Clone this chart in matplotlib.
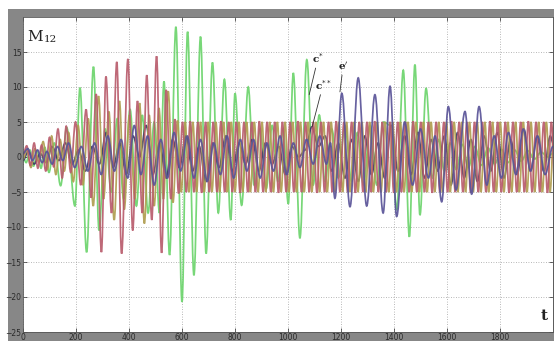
import numpy as np
import matplotlib
matplotlib.use("Agg")
import matplotlib.pyplot as plt
from matplotlib.patches import Rectangle, PathPatch
from matplotlib.path import Path

# extrema, as (t, value) pairs
green_pts = [
    (0, 0.0), (12, -0.8), (26, 1.0), (40, -1.3), (54, 0.9), (68, -1.6), (82, 1.4),
    (98, -2.2), (118, 2.0), (142, -4.1), (165, 4.2), (196, -7.0), (215, 9.9),
    (240, -13.6), (266, 12.9), (287, -10.5), (310, 4.0), (333, -5.0), (356, 5.5),
    (380, -6.0), (404, 6.8), (428, -7.0), (450, 6.0), (472, -8.0), (495, 5.0),
    (515, -8.0), (532, 10.8), (553, -14.0), (577, 18.6), (600, -20.7), (621, 17.9),
    (645, -16.9), (670, 17.2), (691, -13.8), (715, 13.5), (737, -8.0), (760, 11.1),
    (784, -9.0), (800, 9.1), (825, -6.9), (850, 10.0), (872, -4.0), (895, 4.0),
    (918, -4.5), (940, 4.5), (962, -3.5), (982, 4.0), (1001, -6.7), (1020, 12.0),
    (1045, -11.6), (1071, 13.9), (1095, -4.0), (1118, 6.0), (1140, -3.5), (1165, 4.0),
    (1190, -3.0), (1215, 4.5), (1240, -3.5), (1262, 3.5), (1285, -4.0), (1310, 4.5),
    (1335, -4.0), (1360, 5.0), (1388, 4.5), (1410, -7.5), (1435, 12.4), (1458, -11.4),
    (1479, 13.2), (1498, -8.3), (1521, 9.8), (1545, -3.0), (1568, 2.5), (1590, -2.0),
    (1612, 2.0), (1635, -1.8), (1658, 1.8), (1680, -1.5), (1705, 1.5), (1730, -1.2),
    (1755, 1.3), (1780, -1.0), (1805, 1.1), (1830, -0.8), (1855, 1.0), (1880, -0.6),
    (1905, 0.9), (1930, -0.3), (1955, 0.7), (1980, 0.0), (2000, 0.5),
]

red_pts = [
    (0, 0.3), (14, 1.6), (28, -1.2), (42, 2.0), (56, -1.6), (70, 1.7), (86, -2.0),
    (100, 2.8), (116, -1.4), (132, 4.0), (148, -3.0), (163, 4.4), (180, -2.2),
    (198, 5.0), (218, -4.0), (238, 6.8), (257, -5.8), (276, 9.0), (296, -13.6),
    (313, 11.5), (334, -8.0), (354, 13.6), (372, -13.8), (396, 14.0), (414, -10.5),
    (432, 8.0), (450, -8.0), (467, 11.7), (486, -9.0), (504, 14.4), (523, -13.7),
    (540, 9.6), (558, -6.0), (573, 5.4), (587, -5.2), (602, 5.0), (616, -5.0),
    (631, 5.1), (645, -5.0), (660, 5.0), (674, -5.1), (689, 5.0), (703, -5.0),
    (718, 5.0), (732, -5.0), (747, 5.1), (761, -5.0), (776, 5.0), (790, -5.0),
    (805, 5.0), (819, -5.1), (834, 5.0), (848, -5.0), (863, 5.0), (877, -5.0),
    (892, 5.1), (906, -5.0), (921, 5.0), (935, -5.0), (950, 5.0), (964, -5.1),
    (979, 5.0), (993, -5.0), (1008, 5.0), (1022, -5.0), (1037, 5.1), (1051, -5.0),
    (1066, 5.0), (1080, -5.0), (1095, 5.0), (1109, -5.1), (1124, 5.0), (1138, -5.0),
    (1153, 5.0), (1167, -5.0), (1182, 5.1), (1196, -5.0), (1211, 5.0), (1225, -5.0),
    (1240, 5.0), (1254, -5.1), (1269, 5.0), (1283, -5.0), (1298, 5.0), (1312, -5.0),
    (1327, 5.1), (1341, -5.0), (1356, 5.0), (1370, -5.0), (1385, 5.0), (1399, -5.1),
    (1414, 5.0), (1428, -5.0), (1443, 5.0), (1457, -5.0), (1472, 5.1), (1486, -5.0),
    (1501, 5.0), (1515, -5.0), (1530, 5.0), (1544, -5.1), (1559, 5.0), (1573, -5.0),
    (1588, 5.0), (1602, -5.0), (1617, 5.1), (1631, -5.0), (1646, 5.0), (1660, -5.0),
    (1675, 5.0), (1689, -5.1), (1704, 5.0), (1718, -5.0), (1733, 5.0), (1747, -5.0),
    (1762, 5.1), (1776, -5.0), (1791, 5.0), (1805, -5.0), (1820, 5.0), (1834, -5.1),
    (1849, 5.0), (1863, -5.0), (1878, 5.0), (1892, -5.0), (1907, 5.1), (1921, -5.0),
    (1936, 5.0), (1950, -5.0), (1965, 5.0), (1979, -5.1), (1994, 5.0), (2008, -5.0),
]

olive_pts = [
    (0, -0.3), (15, 1.0), (30, -1.5), (45, 1.2), (60, -0.8), (76, 2.2), (92, -1.8),
    (108, 3.0), (124, -2.5), (140, 2.5), (156, -2.0), (172, 3.5), (190, -3.5),
    (208, 4.5), (226, -4.0), (246, 5.5), (265, -7.0), (285, 8.7), (304, -6.0),
    (324, 6.5), (344, -9.0), (364, 8.0), (382, -7.5), (402, 6.0), (422, -6.0),
    (440, 7.7), (458, -9.5), (476, 6.0), (495, -7.0), (513, 7.0), (530, -6.0),
    (548, 9.4), (566, -6.5), (583, 5.2), (597, -5.0), (612, 5.0), (626, -5.0),
    (641, 5.0), (655, -5.0), (670, 5.0), (684, -5.0), (699, 5.0), (713, -5.0),
    (728, 5.0), (742, -5.0), (757, 5.0), (771, -5.0), (786, 5.0), (800, -5.0),
    (815, 5.0), (829, -5.0), (844, 5.0), (858, -5.0), (873, 5.0), (887, -5.0),
    (902, 5.0), (916, -5.0), (931, 5.0), (945, -5.0), (960, 5.0), (974, -5.0),
    (989, 5.0), (1003, -5.0), (1018, 5.0), (1032, -5.0), (1047, 5.0), (1061, -5.0),
    (1076, 5.0), (1090, -5.0), (1105, 5.0), (1119, -5.0), (1134, 5.0), (1148, -5.0),
    (1163, 5.0), (1177, -5.0), (1192, 5.0), (1206, -5.0), (1221, 5.0), (1235, -5.0),
    (1250, 5.0), (1264, -5.0), (1279, 5.0), (1293, -5.0), (1308, 5.0), (1322, -5.0),
    (1337, 5.0), (1351, -5.0), (1366, 5.0), (1380, -5.0), (1395, 5.0), (1409, -5.0),
    (1424, 5.0), (1438, -5.0), (1453, 5.0), (1467, -5.0), (1482, 5.0), (1496, -5.0),
    (1511, 5.0), (1525, -5.0), (1540, 5.0), (1554, -5.0), (1569, 5.0), (1583, -5.0),
    (1598, 5.0), (1612, -5.0), (1627, 5.0), (1641, -5.0), (1656, 5.0), (1670, -5.0),
    (1685, 5.0), (1699, -5.0), (1714, 5.0), (1728, -5.0), (1743, 5.0), (1757, -5.0),
    (1772, 5.0), (1786, -5.0), (1801, 5.0), (1815, -5.0), (1830, 5.0), (1844, -5.0),
    (1859, 5.0), (1873, -5.0), (1888, 5.0), (1902, -5.0), (1917, 5.0), (1931, -5.0),
    (1946, 5.0), (1960, -5.0), (1975, 5.0), (1989, -5.0), (2004, 5.0),
]

e1_pts = [
    (0, 0.5), (18, 1.2), (36, -0.5), (55, 1.0), (72, -0.8), (90, 0.8), (110, -1.0),
    (130, 1.5), (150, -0.5), (172, 2.0), (195, -1.5), (220, 1.5), (245, -2.0),
    (270, 2.0), (295, -2.5), (320, 3.0), (345, -2.0), (370, 2.5), (395, -3.0),
    (420, 4.5), (445, -2.5), (470, 3.0), (495, -4.0), (520, 2.5), (545, -3.0),
    (570, 3.5), (595, -2.0), (620, 3.0), (645, -3.0), (670, 2.5), (695, -3.5),
    (720, 2.0), (745, -2.5), (770, 3.0), (795, -3.0), (820, 2.5), (845, -2.0),
    (870, 2.5), (895, -3.0), (920, 2.0), (945, -2.0), (970, 3.0), (995, -2.5),
    (1020, 2.0), (1045, -1.5), (1070, 2.5), (1095, -1.0), (1120, 3.0), (1145, -1.0),
    (1160, 2.0), (1177, -5.9), (1203, 9.1), (1234, -7.1), (1265, 11.3), (1297, -7.0),
    (1328, 8.9), (1359, -8.0), (1385, 10.1), (1410, -8.5), (1440, 5.0), (1470, -4.0),
    (1500, 4.0), (1530, -3.0), (1555, 3.0), (1580, -6.4), (1605, 7.2), (1634, -4.7),
    (1668, 6.5), (1693, -5.3), (1721, 7.2), (1750, -4.0), (1778, 3.0), (1805, -3.0),
    (1832, 3.5), (1860, -2.5), (1888, 4.0), (1915, -2.0), (1942, 3.0), (1970, -2.5),
    (2000, 1.5),
]

c2_pts = [
    (0, -0.5), (20, 0.8), (42, -1.0), (65, 0.5), (88, -0.8), (110, 1.5), (135, -0.5),
    (160, 2.0), (185, -1.0), (210, 1.0), (235, -2.0), (262, 1.5), (288, -1.0),
    (315, 3.5), (340, -1.5), (365, 2.0), (390, -2.5), (415, 3.0), (440, 0.0),
    (465, 4.5), (490, -2.5), (515, 2.0), (540, -3.0), (565, 2.5), (590, -1.5),
    (615, 3.0), (640, -2.0), (665, 1.5), (690, -3.5), (715, 2.0), (740, -1.5),
    (765, 3.0), (790, -2.0), (815, 2.0), (840, -1.0), (865, 2.5), (890, -2.0),
    (915, 2.0), (940, -1.0), (965, 1.5), (990, -2.5), (1015, 1.5), (1040, 0.0),
    (1065, 1.0), (1090, 4.3), (1115, 1.5), (1140, 3.0), (1165, -2.0), (1190, 2.0),
    (1215, -3.0), (1240, 2.5), (1265, -3.5), (1290, 3.0), (1315, -2.5), (1340, 2.0),
    (1365, -3.0), (1390, 4.5), (1415, -2.0), (1440, 3.0), (1465, -2.5), (1490, 3.5),
    (1515, -3.0), (1540, 2.5), (1565, -2.0), (1590, 3.0), (1615, -4.0), (1640, 3.5),
    (1665, -3.0), (1690, 2.5), (1715, -3.5), (1740, 3.0), (1765, -2.0), (1790, 3.5),
    (1815, -3.0), (1840, 2.5), (1865, -2.5), (1890, 4.0), (1915, -2.0), (1940, 3.0),
    (1965, -2.0), (1990, 3.0), (2000, 2.0),
]

x_ticks = [0, 200, 400, 600, 800, 1000, 1200, 1400, 1600, 1800]
y_ticks = [-25, -20, -15, -10, -5, 0, 5, 10, 15]

# label text, text position, point on curve
notes = [
    (r"c$^{*}$", (1113, 13.1), (1080, 8.9)),
    (r"c$^{**}$", (1132, 9.3), (1091, 4.3)),
    (r"e$^{\prime}$", (1208, 12.1), (1196, 9.3)),
]


def wave_path(pts, k=0.3642):
    # smooth curve through the extrema: flat tangent at each peak/trough
    t, v = np.array(pts, dtype=float).T
    verts = [(t[0], v[0])]
    codes = [Path.MOVETO]
    for i in range(len(t) - 1):
        dt = t[i + 1] - t[i]
        verts += [(t[i] + k * dt, v[i]), (t[i + 1] - k * dt, v[i + 1]), (t[i + 1], v[i + 1])]
        codes += [Path.CURVE4] * 3
    return Path(verts, codes)


W, H = 554, 341
fig = plt.figure(figsize=(W / 100, H / 100), dpi=100, facecolor="white")
fig.patches.append(Rectangle((8 / W, 0), 1, (H - 9) / H, transform=fig.transFigure,
                             facecolor="#878787", edgecolor="none", zorder=-10))
ax = fig.add_axes([23 / W, 9 / H, 530 / W, 315 / H])
ax.set_zorder(5)
ax.set_facecolor("white")

series = [
    (green_pts, "#6cd46c"),
    (c2_pts, "#3a3a66"),
    (olive_pts, "#b09e50"),
    (red_pts, "#b95c6c"),
    (e1_pts, "#5a5498"),
]
for pts, col in series:
    ax.add_patch(PathPatch(wave_path(pts), facecolor="none", edgecolor=col,
                           lw=1.25, alpha=0.92))

ax.set_xlim(0, 2000)
ax.set_ylim(-25, 20)
ax.set_xticks(x_ticks)
ax.set_yticks(y_ticks)
ax.set_axisbelow(True)
ax.grid(True, linestyle=(0, (1, 2)), color="#a0a0a0", lw=0.6)
ax.tick_params(direction="in", top=True, right=True, length=3, width=0.5,
               labelsize=5.5, colors="#2a2a2a", pad=1.2)
ax.tick_params(axis="x", pad=0.5)
for s in ax.spines.values():
    s.set_color("#555555")
    s.set_linewidth(0.6)

m = ax.text(0.008, 0.925, "M", transform=ax.transAxes, fontsize=11,
            family="DejaVu Serif", color="#222222", va="baseline")
ax.annotate("12", xy=(1.0, 0.0), xycoords=m, xytext=(0.5, 1.3),
            textcoords="offset points", fontsize=7.5, family="DejaVu Serif",
            color="#222222", va="baseline")
ax.text(0.984, 0.03, "t", transform=ax.transAxes, fontsize=11,
        family="DejaVu Serif", fontweight="bold", color="#222222",
        ha="center", va="bottom")

for label, txt, pt in notes:
    ax.annotate(label, xy=pt, xytext=txt, fontsize=7.5, family="DejaVu Serif",
                fontweight="bold", color="#222222", ha="center", va="bottom",
                arrowprops=dict(arrowstyle="-", color="#333333", lw=0.6,
                                shrinkA=0, shrinkB=0))

fig.savefig("out.png", dpi=100)
